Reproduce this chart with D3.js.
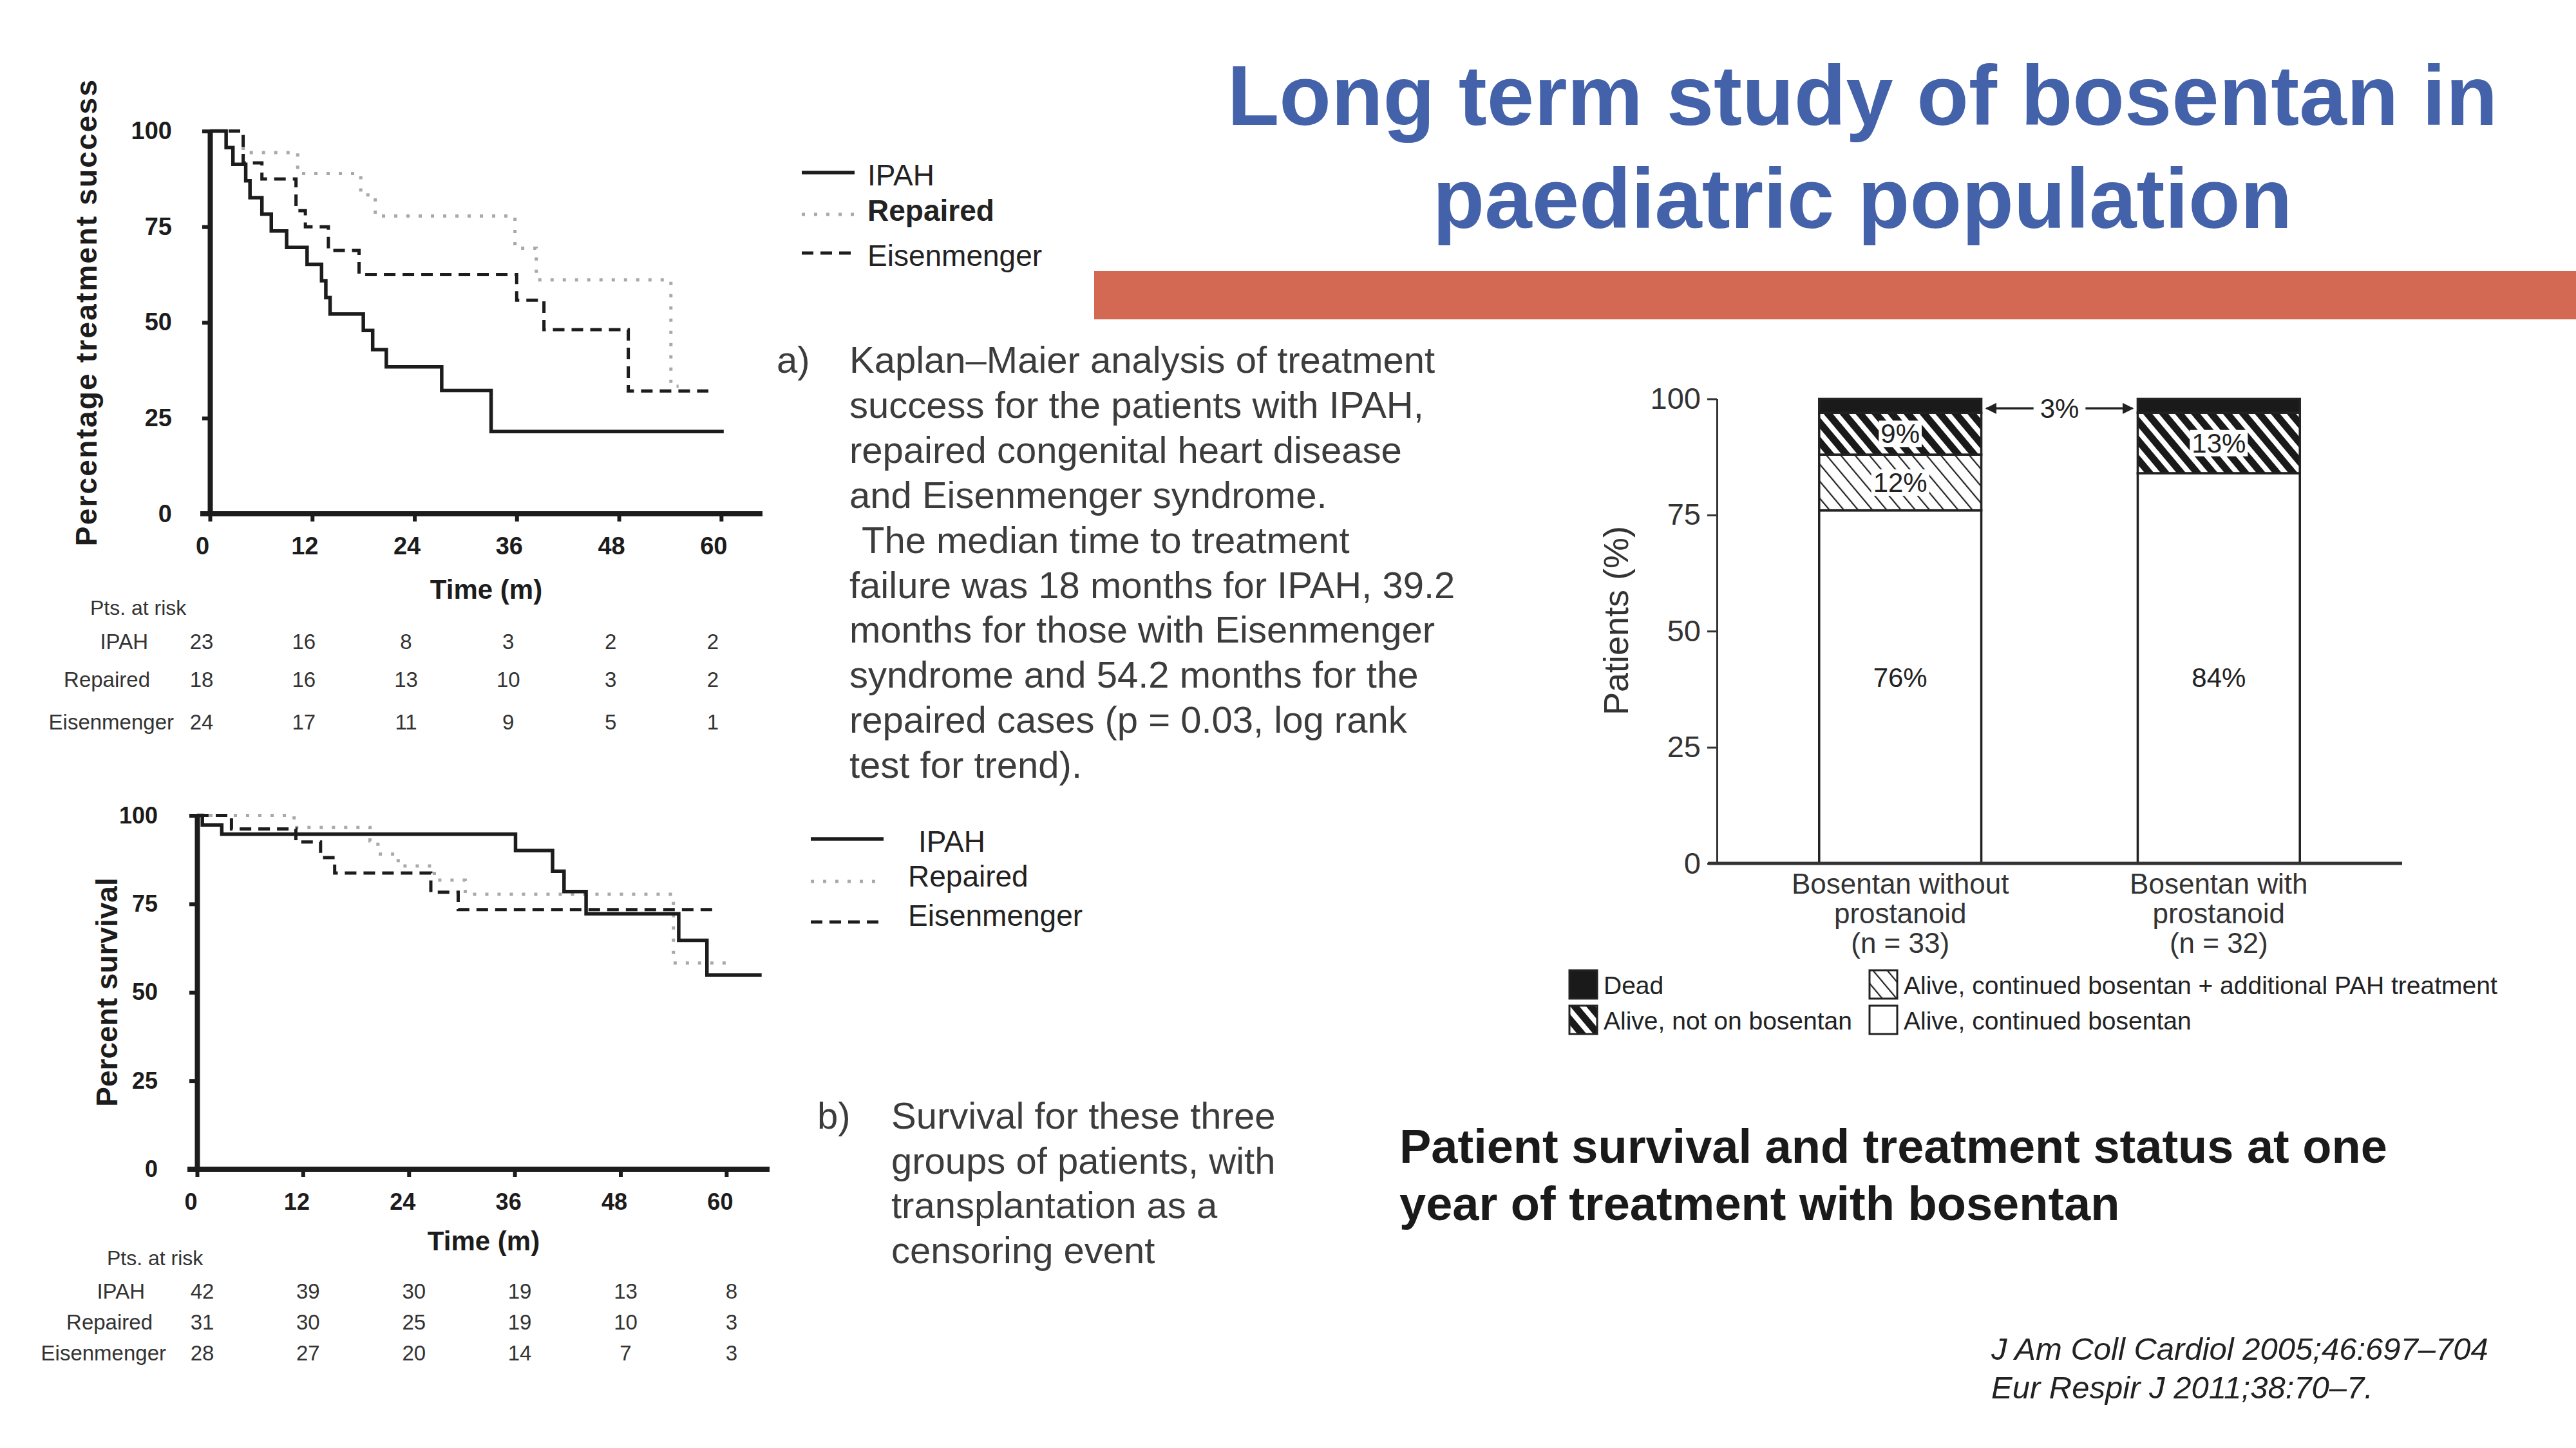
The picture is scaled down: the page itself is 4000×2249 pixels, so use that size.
<!DOCTYPE html>
<html><head><meta charset="utf-8">
<script src="https://cdn.jsdelivr.net/npm/d3@7"></script>
<style>
body{margin:0;background:#fff}
svg{display:block}
text{font-family:"Liberation Sans",Arial,Helvetica,sans-serif}
</style>
</head><body>
<svg id="c" width="4000" height="2249"></svg>
<script>
// ---------------- DATA ----------------
const timeTicks = [0, 12, 24, 36, 48, 60];
const pctTicks = [0, 25, 50, 75, 100];
const groups = ["IPAH", "Repaired", "Eisenmenger"];

// (a) Treatment success, [month, %]
const successIPAH = [[0,100],[1.9,95.7],[2.7,91.3],[4.2,87],[4.7,82.6],[6.1,78.3],[7.2,73.9],[9,69.6],[11.4,65.2],[13.1,60.9],[13.6,56.5],[14.1,52.2],[18,47.9],[19.1,42.9],[20.7,38.4],[27.2,32.2],[33,21.5],[60.3,21.5]];
const successRepaired = [[0,100],[3.9,94.4],[10.3,88.9],[17.7,83.3],[19.4,77.8],[35.8,69.4],[38.3,61.1],[54.1,33.3],[55,33.3]];
const successEisenmenger = [[0,100],[3.9,91.7],[6.1,87.5],[10.1,79.2],[11.2,75],[13.9,68.8],[17.5,62.5],[36,55.8],[39.2,48.1],[49.1,32.1],[58.5,32.1]];

// (b) Survival, [month, %]
const survivalIPAH = [[0,100],[0.6,97.3],[2.8,94.7],[36.1,90.1],[40.3,84.2],[41.6,78.5],[44.1,72.2],[54.6,64.7],[57.8,54.9],[64,54.9]];
const survivalRepaired = [[0,100],[11,96.6],[19.6,92.8],[20.5,89.1],[22.8,85.7],[26.9,81.7],[30.4,77.7],[54,58.3],[60.2,58.3]];
const survivalEisenmenger = [[0,100],[3.9,96.2],[11.2,92.5],[14,88.1],[15.6,83.7],[26.5,78.3],[29.6,73.4],[58.8,73.4]];

// Patients at risk
const riskSuccessIPAH = [23, 16, 8, 3, 2, 2];
const riskSuccessRepaired = [18, 16, 13, 10, 3, 2];
const riskSuccessEisenmenger = [24, 17, 11, 9, 5, 1];
const riskSurvivalIPAH = [42, 39, 30, 19, 13, 8];
const riskSurvivalRepaired = [31, 30, 25, 19, 10, 3];
const riskSurvivalEisenmenger = [28, 27, 20, 14, 7, 3];

// Bar chart
const barCategories = ["Bosentan without prostanoid (n = 33)", "Bosentan with prostanoid (n = 32)"];
const barCategoryLines = [["Bosentan without", "prostanoid", "(n = 33)"], ["Bosentan with", "prostanoid", "(n = 32)"]];
const barContinued = [76, 84];
const barAdditional = [12, 0];
const barNotOn = [9, 13];
const barDead = [3, 3];
const barKeys = ["continued", "additional", "notOn", "dead"];
const barKeyLabels = ["Alive, continued bosentan", "Alive, continued bosentan + additional PAH treatment", "Alive, not on bosentan", "Dead"];
const deadDifferenceLabel = "3%";

// ---------------- DRAWING ----------------
const svg = d3.select("#c");
const INK = "#1c1c1c";
const TXT = "#3c3c3c";

// defs
const defs = svg.append("defs");
const pd = defs.append("pattern").attr("id","hatchDense").attr("patternUnits","userSpaceOnUse")
  .attr("width",19).attr("height",19).attr("patternTransform","rotate(-40)");
pd.append("rect").attr("width",19).attr("height",19).attr("fill","#1a1a1a");
pd.append("rect").attr("x",0).attr("width",8).attr("height",19).attr("fill","#fff");
const pl = defs.append("pattern").attr("id","hatchLight").attr("patternUnits","userSpaceOnUse")
  .attr("width",17).attr("height",17).attr("patternTransform","rotate(-40)");
pl.append("rect").attr("width",17).attr("height",17).attr("fill","#fff");
pl.append("rect").attr("x",0).attr("width",2.2).attr("height",17).attr("fill","#222");
defs.append("marker").attr("id","arrow").attr("viewBox","0 0 10 10").attr("refX",9).attr("refY",5)
  .attr("markerWidth",5).attr("markerHeight",5).attr("orient","auto-start-reverse").attr("markerUnits","strokeWidth")
  .append("path").attr("d","M0,0 L10,5 L0,10 z").attr("fill","#222");

// Title
svg.append("text").attr("x",2892).attr("y",194).attr("text-anchor","middle")
  .attr("font-size",132).attr("font-weight","bold").attr("fill","#4462AA").text("Long term study of bosentan in");
svg.append("text").attr("x",2892).attr("y",354).attr("text-anchor","middle")
  .attr("font-size",132).attr("font-weight","bold").attr("fill","#4462AA").text("paediatric population");
svg.append("rect").attr("x",1699).attr("y",421).attr("width",2301).attr("height",75).attr("fill","#D36952");

// Series styles
const styles = {
  IPAH: {stroke: INK, width: 5.5, dash: null},
  Repaired: {stroke: "#a9a9a9", width: 5, dash: "5,14"},
  Eisenmenger: {stroke: INK, width: 5, dash: "18,11"}
};
function styled(sel, g) {
  const s = styles[g];
  sel.attr("fill","none").attr("stroke",s.stroke).attr("stroke-width",s.width);
  if (s.dash) sel.attr("stroke-dasharray", s.dash);
  return sel;
}

function drawKM(o) {
  const g = svg.append("g");
  const x = d3.scaleLinear().domain([0, o.tMax]).range([o.x0, o.x1]);
  const y = d3.scaleLinear().domain([0, 100]).range([o.y0, o.y1]);

  const xa = g.append("g").attr("transform", `translate(0,${o.y0})`)
    .call(d3.axisBottom(x).tickValues(timeTicks).tickSize(12).tickSizeOuter(0).tickPadding(o.xPad));
  xa.select(".domain").attr("d", `M${o.x0 - 15},0H${o.x1}`).attr("stroke", INK).attr("stroke-width", 8);
  const ya = g.append("g").attr("transform", `translate(${o.x0},0)`)
    .call(d3.axisLeft(y).tickValues(pctTicks).tickSize(12).tickSizeOuter(0).tickPadding(o.yPad));
  ya.select(".domain").attr("stroke", INK).attr("stroke-width", 8);
  [xa, ya].forEach(a => {
    a.attr("font-family", null).attr("font-size", null);
    a.selectAll(".tick line").attr("stroke", INK).attr("stroke-width", 6);
    a.selectAll(".tick text").attr("fill", INK).attr("font-weight", "bold")
      .attr("font-size", o.tickFont).style("font-family", '"Liberation Sans Narrow","Liberation Sans",Arial,sans-serif');
  });
  xa.selectAll(".tick text").attr("dx", o.xdx);

  const line = d3.line().x(d => x(d[0])).y(d => y(d[1])).curve(d3.curveStepAfter);
  const order = [1, 2, 0];
  order.forEach(i => styled(g.append("path").attr("d", line(o.series[i])), groups[i]).attr("stroke-linecap","butt"));

  g.append("text").attr("transform", `translate(${o.yLabelX},${o.yLabelY}) rotate(-90)`)
    .attr("text-anchor","middle").attr("font-size",46).attr("font-weight","bold").attr("fill",INK)
    .attr("letter-spacing", o.yLetter).text(o.yLabel);
  g.append("text").attr("x", o.timeX).attr("y", o.timeY).attr("text-anchor","middle")
    .attr("font-size",42).attr("font-weight","bold").attr("fill",INK).text("Time (m)");

  // risk table
  g.append("text").attr("x", o.ptsX).attr("y", o.ptsY).attr("font-size",32).attr("fill","#333").text("Pts. at risk");
  o.risk.forEach((row, i) => {
    g.append("text").attr("x", o.rowLabelX[i]).attr("y", o.rowY[i]).attr("text-anchor","end")
      .attr("font-size",33).attr("fill","#333").text(groups[i]);
    row.forEach((v, j) => {
      g.append("text").attr("x", x(timeTicks[j]) + o.numDx).attr("y", o.rowY[i]).attr("text-anchor","middle")
        .attr("font-size",33).attr("fill","#333").text(v);
    });
  });
}

drawKM({
  x0: 326, x1: 1184, tMax: 64.85, y0: 798, y1: 203.6,
  xPad: 24, yPad: 47, xdx: -12, tickFont: 38,
  series: [successIPAH, successRepaired, successEisenmenger],
  yLabel: "Percentage treatment success", yLabelX: 150, yLabelY: 485, yLetter: 2.2,
  timeX: 755, timeY: 930,
  risk: [riskSuccessIPAH, riskSuccessRepaired, riskSuccessEisenmenger],
  ptsX: 140, ptsY: 955, rowLabelX: [230, 233, 270], rowY: [1008, 1067, 1133], numDx: -13
});

drawKM({
  x0: 306, x1: 1195, tMax: 64.9, y0: 1816, y1: 1266.5,
  xPad: 25, yPad: 49, xdx: -10, tickFont: 36,
  series: [survivalIPAH, survivalRepaired, survivalEisenmenger],
  yLabel: "Percent survival", yLabelX: 182, yLabelY: 1541, yLetter: 0,
  timeX: 751, timeY: 1942,
  risk: [riskSurvivalIPAH, riskSurvivalRepaired, riskSurvivalEisenmenger],
  ptsX: 166, ptsY: 1965, rowLabelX: [225, 237, 258], rowY: [2017, 2065, 2113], numDx: 8
});

// Legends for KM charts
function kmLegend(lx0, lx1, lineYs, textX, textYs, boldIdx) {
  groups.forEach((gname, i) => {
    styled(svg.append("line").attr("x1", lx0).attr("x2", lx1).attr("y1", lineYs[i]).attr("y2", lineYs[i]), gname);
    svg.append("text").attr("x", textX[i]).attr("y", textYs[i]).attr("font-size",46)
      .attr("font-weight", i === boldIdx ? "bold" : "normal").attr("fill","#222").text(gname);
  });
}
kmLegend(1245, 1327, [268, 333, 393], [1347, 1347, 1347], [288, 343, 413], 1);
kmLegend(1259, 1372, [1303, 1369, 1432], [1426, 1410, 1410], [1323, 1377, 1438], -1);

// Paragraph texts
const paraA = ["Kaplan–Maier analysis of treatment", "success for the patients with IPAH,",
  "repaired congenital heart disease", "and Eisenmenger syndrome.", "The median time to treatment",
  "failure was 18 months for IPAH, 39.2", "months for those with Eisenmenger",
  "syndrome and 54.2 months for the", "repaired cases (p = 0.03, log rank", "test for trend)."];
svg.append("text").attr("x",1206).attr("y",579).attr("font-size",58).attr("fill",TXT).text("a)");
paraA.forEach((t, i) => svg.append("text").attr("x", i === 4 ? 1338 : 1319).attr("y", 579 + i * 69.9)
  .attr("font-size",58).attr("fill",TXT).text(t));
const paraB = ["Survival for these three", "groups of patients, with", "transplantation as a", "censoring event"];
svg.append("text").attr("x",1269).attr("y",1753).attr("font-size",58).attr("fill",TXT).text("b)");
paraB.forEach((t, i) => svg.append("text").attr("x", 1384).attr("y", 1753 + i * 69.7)
  .attr("font-size",58).attr("fill",TXT).text(t));

// ---------------- BAR CHART ----------------
const bg = svg.append("g");
const xb = d3.scaleBand().domain(barCategories).range([2666, 3730]).paddingInner(0.491).paddingOuter(0.321);
const yb = d3.scaleLinear().domain([0, 100]).range([1341, 619.5]);
const rows = barCategories.map((c, i) => ({cat: c, continued: barContinued[i], additional: barAdditional[i], notOn: barNotOn[i], dead: barDead[i]}));
const stacked = d3.stack().keys(barKeys)(rows);
const fills = {continued: "#fff", additional: "url(#hatchLight)", notOn: "url(#hatchDense)", dead: "#1a1a1a"};

stacked.forEach(layer => {
  layer.forEach(d => {
    if (d[1] - d[0] <= 0) return;
    bg.append("rect").attr("x", xb(d.data.cat)).attr("y", yb(d[1])).attr("width", xb.bandwidth())
      .attr("height", yb(d[0]) - yb(d[1])).attr("fill", fills[layer.key]).attr("stroke", "#222").attr("stroke-width", 3.5);
  });
});

// axes
const yaxB = bg.append("g").attr("transform", "translate(2666,0)")
  .call(d3.axisLeft(yb).tickValues(pctTicks).tickSize(15).tickSizeOuter(0).tickPadding(10));
yaxB.attr("font-family", null).attr("font-size", null);
yaxB.select(".domain").attr("stroke", "#333").attr("stroke-width", 3);
yaxB.selectAll(".tick line").attr("stroke", "#333").attr("stroke-width", 3);
yaxB.selectAll(".tick text").attr("font-size", 47).attr("fill", "#333");
const xaxB = bg.append("g").attr("transform", "translate(0,1341)")
  .call(d3.axisBottom(xb).tickSize(0).tickSizeOuter(0).tickFormat(""));
xaxB.select(".domain").attr("d", "M2652,0H3730").attr("stroke", "#333").attr("stroke-width", 5);

// category labels
barCategories.forEach((c, i) => {
  barCategoryLines[i].forEach((ln, k) => {
    bg.append("text").attr("x", xb(c) + xb.bandwidth() / 2).attr("y", 1388 + k * 46)
      .attr("text-anchor", "middle").attr("font-size", 44).attr("fill", "#333").text(ln);
  });
});

// y label
bg.append("text").attr("transform", "translate(2528,964) rotate(-90)").attr("text-anchor", "middle")
  .attr("font-size", 54).attr("fill", "#333").text("Patients (%)");

// value labels
stacked.forEach(layer => {
  layer.forEach(d => {
    const v = d[1] - d[0];
    if (v < 5) return;
    const cx = xb(d.data.cat) + xb.bandwidth() / 2;
    const cy = layer.key === "continued" ? yb(40) : yb((d[0] + d[1]) / 2);
    const t = bg.append("text").attr("x", cx).attr("y", cy).attr("dy", "0.35em").attr("text-anchor", "middle")
      .attr("font-size", 42).attr("fill", "#222").text(v + "%");
    if (layer.key !== "continued") {
      const bb = t.node().getBBox();
      bg.insert("rect", () => t.node()).attr("x", bb.x - 3).attr("y", bb.y + 3).attr("width", bb.width + 6)
        .attr("height", bb.height - 6).attr("fill", "#fff");
    }
  });
});

// dead difference arrows
{
  const deadLayer = stacked[3];
  const ay = yb((deadLayer[0][0] + deadLayer[0][1]) / 2) + 4;
  const leftEdge = xb(barCategories[0]) + xb.bandwidth();
  const rightEdge = xb(barCategories[1]);
  const mid = (leftEdge + rightEdge) / 2;
  const t = bg.append("text").attr("x", mid).attr("y", ay).attr("dy", "0.35em").attr("text-anchor", "middle")
    .attr("font-size", 42).attr("fill", "#222").text(deadDifferenceLabel);
  const bb = t.node().getBBox();
  bg.append("line").attr("x1", bb.x - 10).attr("x2", leftEdge + 8).attr("y1", ay).attr("y2", ay)
    .attr("stroke", "#222").attr("stroke-width", 3.5).attr("marker-end", "url(#arrow)");
  bg.append("line").attr("x1", bb.x + bb.width + 10).attr("x2", rightEdge - 8).attr("y1", ay).attr("y2", ay)
    .attr("stroke", "#222").attr("stroke-width", 3.5).attr("marker-end", "url(#arrow)");
}

// bar legend: order Dead, Alive not on; Alive continued + additional, Alive continued
const legendItems = [
  {key: "dead", col: 0, row: 0}, {key: "notOn", col: 0, row: 1},
  {key: "additional", col: 1, row: 0}, {key: "continued", col: 1, row: 1}
];
legendItems.forEach(it => {
  const bx = it.col === 0 ? 2437 : 2903;
  const by = it.row === 0 ? 1507 : 1562;
  bg.append("rect").attr("x", bx).attr("y", by).attr("width", 43).attr("height", 44)
    .attr("fill", fills[it.key]).attr("stroke", "#222").attr("stroke-width", 3);
  bg.append("text").attr("x", bx + 53).attr("y", by + 37).attr("font-size", 39).attr("fill", "#222")
    .text(barKeyLabels[barKeys.indexOf(it.key)]);
});

// subtitle
svg.append("text").attr("x", 2173).attr("y", 1806).attr("font-size", 74).attr("font-weight", "bold").attr("fill", "#1a1a1a")
  .text("Patient survival and treatment status at one");
svg.append("text").attr("x", 2173).attr("y", 1895).attr("font-size", 74).attr("font-weight", "bold").attr("fill", "#1a1a1a")
  .text("year of treatment with bosentan");

// references
svg.append("text").attr("x", 3092).attr("y", 2112).attr("font-size", 49).attr("font-style", "italic").attr("fill", "#222")
  .text("J Am Coll Cardiol 2005;46:697–704");
svg.append("text").attr("x", 3092).attr("y", 2172).attr("font-size", 49).attr("font-style", "italic").attr("fill", "#222")
  .text("Eur Respir J 2011;38:70–7.");
</script>
</body></html>
